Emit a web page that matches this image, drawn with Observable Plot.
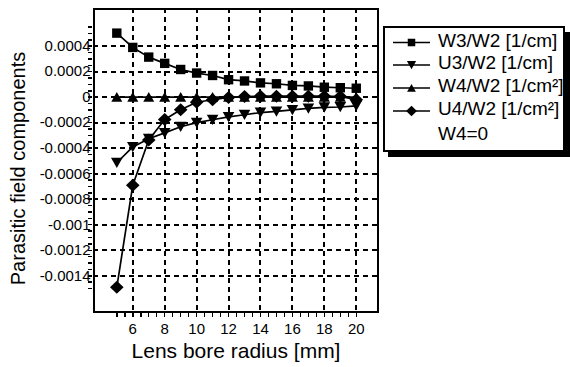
<!DOCTYPE html>
<html><head><meta charset="utf-8">
<script src="https://cdn.jsdelivr.net/npm/d3@7"></script>
<script src="https://cdn.jsdelivr.net/npm/@observablehq/plot@0.6"></script>
<style>
body{margin:0;background:#fff;}
svg{font-family: Arial, "Liberation Sans", sans-serif;}
</style>
</head><body><div id="chart"></div>
<script>
// ---- data ----
const radius = [5, 6, 7, 8, 9, 10, 11, 12, 13, 14, 15, 16, 17, 18, 19, 20];
const w3w2 = [0.000502, 0.00039, 0.000314, 0.000265, 0.000217, 0.000189, 0.00017, 0.000137, 0.000127, 0.000112, 0.000105, 0.000092, 0.000088, 0.000078, 0.000074, 0.00007];
const u3w2 = [-0.000514, -0.00039, -0.000326, -0.00028, -0.000232, -0.0002, -0.000177, -0.000155, -0.000138, -0.000121, -0.000112, -0.0001, -0.000088, -0.00008, -0.000077, -0.000068];
const w4w2 = [0, 0, 0, 0, 0, 0, 0, 0, 0, 0, 0, 0, 0, 0, 0, 0];
const u4w2 = [-0.00149, -0.00069, -0.000336, -0.000175, -0.000098, -0.00004, -0.00002, -0.000002, 0.000005, 0.000008, 0.000008, 0.000008, 0.000008, 0.000008, 0.000005, -0.00002];
const seriesNames = ["W3/W2 [1/cm]", "U3/W2 [1/cm]", "W4/W2 [1/cm²]", "U4/W2 [1/cm²]"];
const legendNote = "W4=0";
const xTickLabels = [6, 8, 10, 12, 14, 16, 18, 20];
const yTickLabels = [0.0004, 0.0002, 0, -0.0002, -0.0004, -0.0006, -0.0008, -0.001, -0.0012, -0.0014];
const xTitle = "Lens bore radius [mm]";
const yTitle = "Parasitic field components";

// ---- marker shapes ----
function shapePath(kind, p) {
  if (kind === "square") { p.rect(-4.7, -4.7, 9.4, 9.4); }
  else if (kind === "down") { p.moveTo(0, 5.3); p.lineTo(5.8, -5); p.lineTo(-5.8, -5); p.closePath(); }
  else if (kind === "up") { p.moveTo(0, -5.1); p.lineTo(5.5, 4.7); p.lineTo(-5.5, 4.7); p.closePath(); }
  else if (kind === "diamond") { p.moveTo(0, -6.5); p.lineTo(6.8, 0); p.lineTo(0, 6.5); p.lineTo(-6.8, 0); p.closePath(); }
}
const sym = kind => ({draw(ctx) { shapePath(kind, ctx); }});
const kinds = ["square", "down", "up", "diamond"];
const values = [w3w2, u3w2, w4w2, u4w2];

const series = seriesNames.map((name, i) => ({
  name, kind: kinds[i],
  rows: radius.map((r, j) => ({x: r, y: values[i][j]}))
}));

const xMinor = d3.range(5, 20.01, 0.5);
const yMinor = d3.range(-30, 12).map(k => k * 0.00005);

const gridStyle = {stroke: "black", strokeOpacity: 1, strokeWidth: 2, strokeDasharray: "5,4", shapeRendering: "crispEdges"};
const marks = [
  Plot.ruleX(xTickLabels, gridStyle),
  Plot.ruleY(yTickLabels, gridStyle),
  Plot.axisX({ticks: xMinor, tickSize: 4, dy: 2, tickFormat: () => "", strokeWidth: 1.5, shapeRendering: "crispEdges", label: null}),
  Plot.axisX({ticks: xTickLabels, tickSize: 0, tickPadding: 12, fontSize: 15, tickFormat: d => String(d), label: null}),
  Plot.axisY({ticks: yMinor, tickSize: 4, dx: -1, tickFormat: () => "", strokeWidth: 1.5, shapeRendering: "crispEdges", label: null}),
  Plot.axisY({ticks: yTickLabels, tickSize: 0, tickPadding: 3, fontSize: 15, tickFormat: d => String(d), label: null}),
  Plot.frame({stroke: "black", strokeWidth: 2, shapeRendering: "crispEdges"})
];
for (const s of series) {
  marks.push(Plot.line(s.rows, {x: "x", y: "y", stroke: "black", strokeWidth: 1.7}));
  marks.push(Plot.dot(s.rows, {x: "x", y: "y", symbol: sym(s.kind), r: 5, fill: "black", stroke: "none"}));
}

const plot = Plot.plot({
  width: 570, height: 367,
  marginLeft: 93, marginRight: 193, marginTop: 8, marginBottom: 56,
  x: {domain: [3.54, 21.33]},
  y: {domain: [-0.00168, 0.000695]},
  style: {fontFamily: "Arial, 'Liberation Sans', sans-serif", fontSize: "15px", color: "black", background: "white"},
  marks
});
document.getElementById("chart").appendChild(plot);

// ---- titles & legend ----
const svg = d3.select(plot);
svg.append("text").attr("x", 236).attr("y", 358).attr("text-anchor", "middle")
  .attr("font-size", 21).attr("fill", "black").text(xTitle);
svg.append("text").attr("transform", "translate(24.5,168.5) rotate(-90)").attr("text-anchor", "middle")
  .attr("font-size", 20).attr("fill", "black").text(yTitle);

const lg = svg.append("g").attr("text-anchor", "start");
lg.append("rect").attr("x", 388).attr("y", 32).attr("width", 182).attr("height", 125).attr("fill", "black");
lg.append("rect").attr("x", 384).attr("y", 27).attr("width", 180).attr("height", 124)
  .attr("fill", "white").attr("stroke", "black").attr("stroke-width", 2);
const baselines = [46.5, 69, 92, 115, 139.5];
series.forEach((s, i) => {
  const yl = baselines[i] - 4;
  lg.append("line").attr("x1", 393).attr("x2", 430).attr("y1", yl).attr("y2", yl)
    .attr("stroke", "black").attr("stroke-width", 1.7);
  const p = d3.path(); shapePath(s.kind, p);
  lg.append("path").attr("d", p.toString()).attr("transform", `translate(411.5,${yl}) scale(0.8)`).attr("fill", "black");
  lg.append("text").attr("x", 438).attr("y", baselines[i]).attr("text-anchor", "start")
    .attr("font-size", 19).attr("fill", "black").text(s.name);
});
lg.append("text").attr("x", 438).attr("y", baselines[4]).attr("text-anchor", "start")
  .attr("font-size", 19).attr("fill", "black").text(legendNote);
</script>
</body></html>
